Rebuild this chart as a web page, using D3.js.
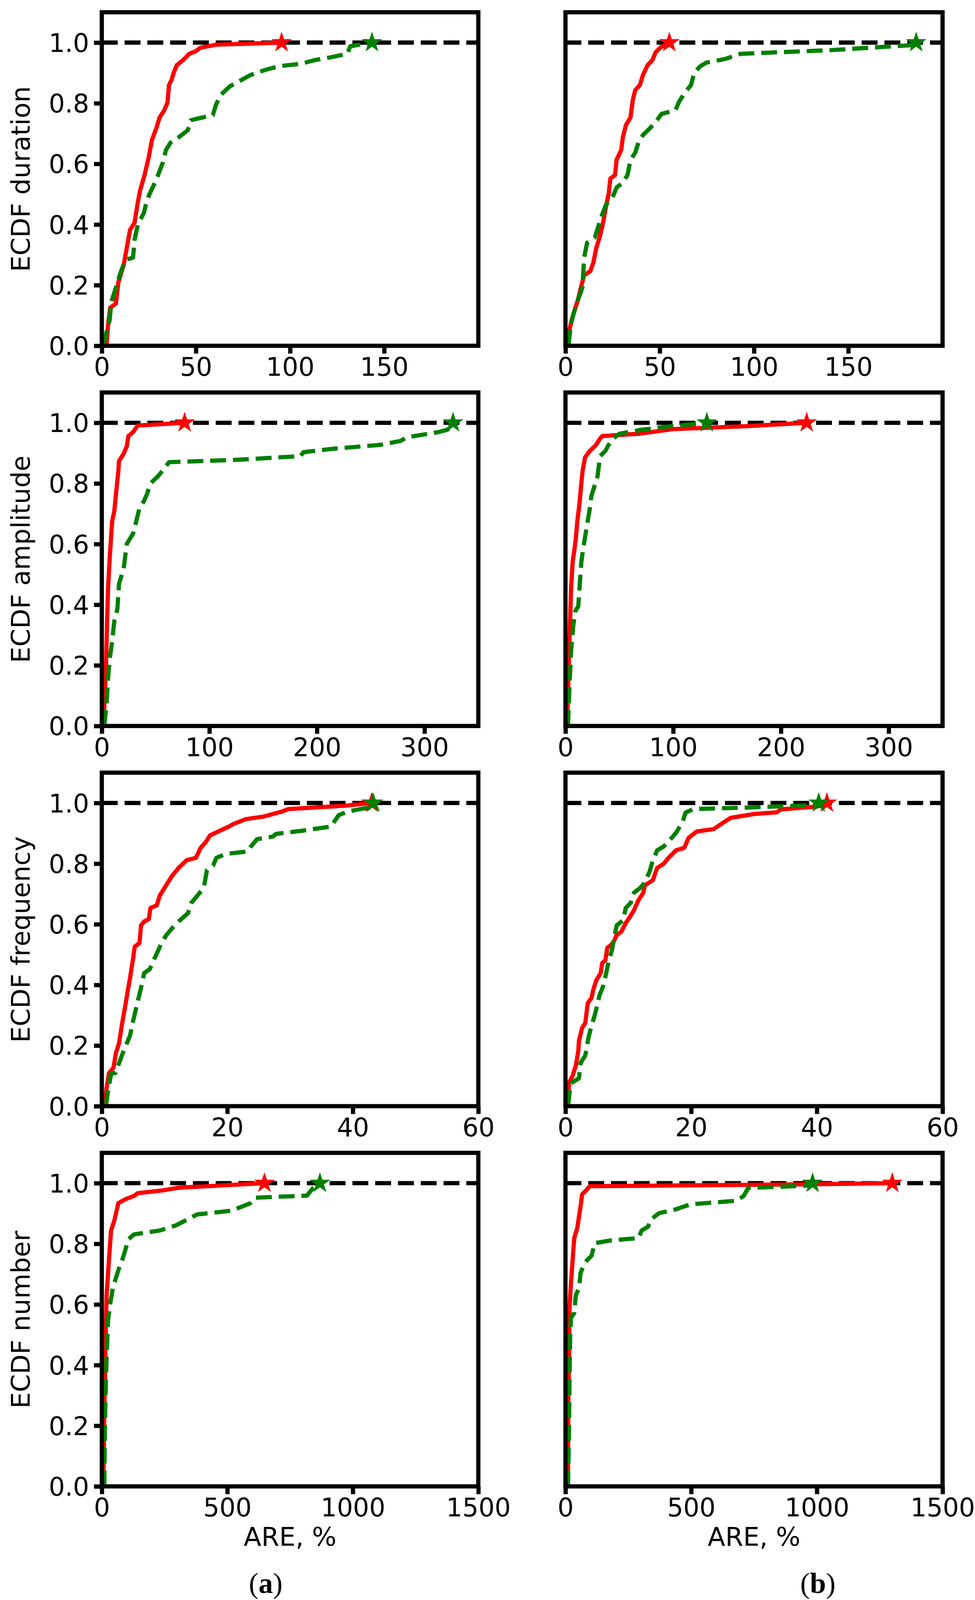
<!DOCTYPE html>
<html><head><meta charset="utf-8">
<script src="https://cdn.jsdelivr.net/npm/d3@7/dist/d3.min.js"></script>
<style>body{margin:0;background:#fff}svg{display:block}</style>
</head><body>
<script>
// ---------- data ----------
const rowLabels = ["ECDF duration", "ECDF amplitude", "ECDF frequency", "ECDF number"];
const xMaxes = [200, 350, 60, 1500];
const xTickVals = [[0, 50, 100, 150], [0, 100, 200, 300], [0, 20, 40, 60], [0, 500, 1000, 1500]];
const yTickVals = [0, 0.2, 0.4, 0.6, 0.8, 1.0];
const xLabel = "ARE, %";
const colLabels = ["a", "b"];

const durA_red = [[2.5,0],[3.3,0.068],[4.5,0.126],[7.5,0.139],[8.8,0.209],[11.6,0.266],[13.3,0.324],[15,0.382],[17.4,0.406],[19.1,0.472],[20.4,0.514],[22.7,0.563],[24.9,0.621],[26.6,0.678],[29.1,0.72],[30.7,0.753],[33.2,0.777],[34.9,0.802],[35.7,0.86],[37,0.876],[38.2,0.901],[39.9,0.926],[43.2,0.942],[46.5,0.963],[49.8,0.971],[52.3,0.983],[60.6,0.993],[95.5,1.0]];
const durA_green = [[0.8,0],[2.5,0.044],[4.2,0.085],[5,0.143],[7.5,0.192],[10,0.242],[12.5,0.283],[16.6,0.291],[17.4,0.349],[19.1,0.398],[22.4,0.439],[24,0.481],[25.7,0.505],[28.2,0.538],[29.9,0.563],[32.4,0.604],[34.1,0.646],[36.5,0.67],[40.7,0.687],[45.7,0.711],[47.3,0.744],[59,0.761],[60.6,0.794],[63.1,0.827],[68.1,0.856],[74,0.876],[79,0.893],[86.4,0.909],[93.9,0.922],[105.5,0.93],[113,0.942],[122,0.952],[130.4,0.963],[132,0.988],[143.5,1.0]];
const durB_red = [[1.6,0],[2.1,0.052],[3.3,0.085],[4.9,0.118],[6.6,0.151],[8.2,0.192],[9.9,0.233],[13.2,0.246],[14.8,0.275],[16.4,0.324],[18.1,0.357],[19.7,0.398],[21.4,0.456],[23,0.505],[23.8,0.551],[26.3,0.563],[27.1,0.613],[29.6,0.646],[30.4,0.687],[32.1,0.728],[34.5,0.753],[35.7,0.81],[37,0.843],[39.5,0.86],[41.1,0.893],[43.6,0.926],[46.1,0.942],[47.7,0.967],[50.2,0.983],[55.1,1.0]];
const durB_green = [[1.6,0],[2.8,0.068],[4.1,0.101],[6.6,0.151],[9,0.192],[9.9,0.291],[11.5,0.34],[15.6,0.357],[18.9,0.423],[21.4,0.464],[25.5,0.497],[27.1,0.522],[30.4,0.538],[32.9,0.563],[34.5,0.613],[37,0.637],[38.7,0.67],[41.1,0.695],[45.2,0.72],[48.5,0.744],[51,0.765],[58.4,0.777],[60,0.802],[63.3,0.835],[66.6,0.86],[68.3,0.901],[71.5,0.922],[74.8,0.934],[84.7,0.946],[92.9,0.963],[140.6,0.975],[185,0.992],[186,1.0]];

const ampA_red = [[1.5,0],[3.8,0.18],[4.9,0.345],[5.8,0.452],[7.3,0.552],[8.1,0.593],[9.6,0.675],[11.6,0.708],[13.7,0.783],[15.4,0.841],[16,0.874],[20.3,0.898],[23.3,0.923],[24.7,0.956],[29,0.969],[33.4,0.991],[77,1.0]];
const ampA_green = [[2.3,0],[4.4,0.073],[5.8,0.155],[7.3,0.221],[9.6,0.279],[11.6,0.345],[14.5,0.386],[16,0.469],[20.3,0.519],[23.3,0.601],[29,0.634],[32,0.675],[34.9,0.717],[39.2,0.742],[42.2,0.766],[45,0.799],[52.3,0.824],[58.1,0.849],[62.5,0.87],[126.5,0.878],[184.6,0.89],[187.5,0.903],[216.6,0.915],[258.7,0.927],[277.6,0.94],[283.4,0.952],[312.5,0.969],[321.2,0.977],[326.5,1.0]];
const ampB_red = [[1.4,0],[2.3,0.097],[3.2,0.221],[4.3,0.345],[5.2,0.452],[6.7,0.543],[8.1,0.576],[9.6,0.618],[11,0.675],[13,0.733],[14.5,0.791],[15.9,0.841],[18.2,0.886],[22.6,0.907],[28.4,0.927],[32.1,0.948],[34.2,0.956],[68.9,0.964],[99.3,0.979],[168.8,0.989],[223.9,1.0]];
const ampB_green = [[2.3,0],[3.8,0.139],[5.2,0.246],[7.2,0.329],[9,0.378],[11.9,0.395],[13.3,0.469],[14.8,0.543],[16.8,0.593],[20.6,0.675],[22.6,0.717],[24,0.758],[26.9,0.791],[29.8,0.824],[32.1,0.89],[37,0.907],[40,0.927],[44.3,0.948],[50.1,0.964],[70.4,0.977],[96.4,0.988],[131.2,1.0]];

const freqA_red = [[0.5,0],[0.75,0.059],[1.15,0.109],[1.85,0.126],[2.25,0.175],[2.75,0.208],[3.25,0.274],[3.75,0.332],[4.15,0.382],[4.5,0.423],[5,0.489],[5.25,0.526],[6,0.538],[6.25,0.596],[6.75,0.609],[7.5,0.617],[7.75,0.654],[8.75,0.662],[9.25,0.695],[10,0.72],[10.75,0.745],[11.25,0.761],[12.25,0.786],[13.5,0.811],[15,0.819],[15.75,0.852],[16.5,0.869],[17.25,0.893],[18.75,0.908],[20.25,0.922],[21,0.931],[23,0.947],[25.75,0.955],[28.75,0.972],[29.75,0.98],[38.75,0.991],[43,1.0]];
const freqA_green = [[0.65,0],[1,0.051],[1.5,0.109],[2.15,0.109],[2.75,0.142],[3.35,0.175],[4,0.208],[4.5,0.233],[5,0.282],[5.75,0.348],[6.25,0.39],[6.75,0.439],[7.65,0.452],[8.25,0.481],[9,0.514],[9.5,0.538],[10.25,0.563],[11.25,0.588],[12.25,0.609],[13.75,0.637],[14.25,0.67],[15.25,0.695],[16.25,0.72],[16.75,0.778],[17.75,0.794],[18.25,0.819],[19.75,0.832],[23.25,0.84],[23.75,0.856],[24.75,0.881],[27.25,0.889],[27.75,0.898],[31.75,0.908],[36.5,0.922],[37.75,0.96],[39.25,0.972],[42.25,0.984],[43.25,1.0]];
const freqB_red = [[0.4,0],[0.55,0.076],[1.15,0.101],[1.65,0.134],[2.05,0.183],[2.15,0.216],[2.65,0.258],[3.15,0.274],[3.55,0.34],[4.15,0.357],[4.4,0.382],[4.9,0.415],[5.6,0.439],[5.85,0.472],[6.35,0.481],[6.65,0.522],[7.6,0.538],[8.1,0.563],[8.9,0.576],[9.6,0.604],[10.4,0.629],[10.9,0.646],[11.6,0.679],[12.4,0.704],[12.6,0.728],[13.9,0.745],[14.6,0.786],[15.6,0.799],[16.4,0.819],[17.6,0.844],[18.9,0.852],[19.6,0.885],[20.9,0.906],[23.6,0.914],[25.1,0.935],[26.3,0.951],[30.1,0.964],[33.6,0.969],[34.3,0.979],[40,0.988],[41.6,1.0]];
const freqB_green = [[0.4,0],[0.65,0.043],[0.9,0.076],[2.15,0.092],[2.4,0.142],[3.15,0.167],[3.65,0.225],[4.15,0.266],[4.65,0.299],[5.05,0.332],[5.4,0.365],[5.9,0.39],[6.4,0.431],[6.9,0.481],[7.4,0.514],[7.65,0.547],[8.15,0.596],[9.15,0.613],[9.6,0.654],[10.4,0.671],[10.9,0.704],[11.9,0.72],[12.6,0.737],[13.4,0.774],[13.9,0.811],[14.6,0.844],[15.6,0.856],[16.6,0.877],[17.6,0.902],[18.6,0.935],[19.1,0.968],[20.35,0.98],[27.6,0.984],[39.6,0.993],[40.3,1.0]];

const numA_red = [[6,0],[10,0.259],[14,0.424],[19,0.63],[29,0.753],[37,0.844],[50,0.877],[66,0.934],[94,0.947],[131,0.959],[143,0.967],[249,0.977],[305,0.985],[648,1.0]];
const numA_green = [[10,0],[12,0.177],[16,0.342],[19,0.424],[25,0.547],[34,0.605],[44,0.654],[56,0.687],[69,0.72],[84,0.753],[96,0.786],[106,0.815],[128,0.831],[231,0.844],[293,0.86],[343,0.881],[380,0.897],[517,0.909],[592,0.934],[611,0.952],[817,0.959],[842,0.984],[869,1.0]];
const numB_red = [[10,0],[11,0.259],[14,0.424],[16,0.588],[22,0.671],[29,0.753],[35,0.819],[47,0.852],[53,0.885],[62,0.934],[66,0.963],[81,0.975],[97,0.99],[939,0.996],[1300,1.0]];
const numB_green = [[10,0],[14,0.177],[16,0.342],[19,0.506],[22,0.556],[35,0.572],[41,0.63],[54,0.654],[60,0.704],[72,0.728],[85,0.745],[104,0.761],[116,0.802],[178,0.811],[291,0.819],[303,0.844],[328,0.856],[341,0.881],[372,0.901],[440,0.914],[496,0.93],[677,0.942],[708,0.957],[727,0.984],[964,0.992],[983,1.0]];

const panelSeries = [
  [[durA_red, durA_green], [durB_red, durB_green]],
  [[ampA_red, ampA_green], [ampB_red, ampB_green]],
  [[freqA_red, freqA_green], [freqB_red, freqB_green]],
  [[numA_red, numA_green], [numB_red, numB_green]]
];

// ---------- layout ----------
const W = 2495, H = 4115;
const cols = [{x0: 260.5, x1: 1224}, {x0: 1447, x1: 2412}];
const rowTop0 = 31.4, rowStep = 973.3, rowH = 853.8;
const LW = 10.8;
const dash = "40.7 17.6";
const FONT = "'DejaVu Sans', sans-serif";
const tickFs = 65, labelFs = 66;
const RED = "#ff0000", GREEN = "#008000";

const svg = d3.select("body").append("svg").attr("width", W).attr("height", H)
  .attr("viewBox", `0 0 ${W} ${H}`);
svg.append("rect").attr("width", W).attr("height", H).attr("fill", "#fff");

const star = d3.symbol().type(d3.symbolStar).size(800);

rowLabels.forEach((lab, r) => {
  const top = rowTop0 + r * rowStep, bot = top + rowH;
  cols.forEach((c, ci) => {
    const x = d3.scaleLinear().domain([0, xMaxes[r]]).range([c.x0, c.x1]);
    const y = d3.scaleLinear().domain([0, 1.1]).range([bot, top]);
    const g = svg.append("g");
    const cid = `clip-${r}-${ci}`;
    g.append("clipPath").attr("id", cid).append("rect")
      .attr("x", c.x0).attr("y", top).attr("width", c.x1 - c.x0).attr("height", rowH);
    const plot = g.append("g").attr("clip-path", `url(#${cid})`);

    // reference line at 1.0
    plot.append("line").attr("x1", x(0)).attr("x2", x(xMaxes[r]))
      .attr("y1", y(1)).attr("y2", y(1))
      .attr("stroke", "#000").attr("stroke-width", LW).attr("stroke-dasharray", dash);

    const line = d3.line().x(d => x(d[0])).y(d => y(d[1]));
    const [redS, greenS] = panelSeries[r][ci];
    plot.append("path").attr("d", line(redS)).attr("fill", "none")
      .attr("stroke", RED).attr("stroke-width", LW).attr("stroke-linejoin", "round");
    const rl = redS[redS.length - 1];
    plot.append("path").attr("d", star()).attr("transform", `translate(${x(rl[0])},${y(rl[1])})`)
      .attr("fill", RED).attr("stroke", RED).attr("stroke-width", 1);
    plot.append("path").attr("d", line(greenS)).attr("fill", "none")
      .attr("stroke", GREEN).attr("stroke-width", LW).attr("stroke-linejoin", "round")
      .attr("stroke-dasharray", dash);
    const gl = greenS[greenS.length - 1];
    plot.append("path").attr("d", star()).attr("transform", `translate(${x(gl[0])},${y(gl[1])})`)
      .attr("fill", GREEN).attr("stroke", GREEN).attr("stroke-width", 1);

    // frame
    g.append("rect").attr("x", c.x0).attr("y", top).attr("width", c.x1 - c.x0).attr("height", rowH)
      .attr("fill", "none").attr("stroke", "#000").attr("stroke-width", LW);

    // x axis ticks
    const xAxis = d3.axisBottom(x).tickValues(xTickVals[r]).tickSize(20).tickPadding(10).tickFormat(d3.format("d"));
    const ax = g.append("g").attr("transform", `translate(0,${bot})`).call(xAxis);
    ax.select(".domain").remove();
    ax.selectAll(".tick line").attr("stroke", "#000").attr("stroke-width", LW);
    ax.selectAll(".tick text").attr("font-family", FONT).attr("font-size", tickFs)
      .attr("fill", "#000").attr("dy", null).attr("y", 77);

    if (ci === 0) {
      const yAxis = d3.axisLeft(y).tickValues(yTickVals).tickSize(20).tickPadding(12).tickFormat(d3.format(".1f"));
      const ay = g.append("g").attr("transform", `translate(${c.x0},0)`).call(yAxis);
      ay.select(".domain").remove();
      ay.selectAll(".tick line").attr("stroke", "#000").attr("stroke-width", LW);
      ay.selectAll(".tick text").attr("font-family", FONT).attr("font-size", tickFs)
        .attr("fill", "#000").attr("dy", "0.36em").attr("x", -32.5);
      g.append("text").attr("transform", `translate(76,${(top + bot) / 2}) rotate(-90)`)
        .attr("text-anchor", "middle").attr("font-family", FONT).attr("font-size", labelFs)
        .attr("fill", "#000").text(lab);
    }
    if (r === rowLabels.length - 1) {
      g.append("text").attr("x", (c.x0 + c.x1) / 2).attr("y", 3957)
        .attr("text-anchor", "middle").attr("font-family", FONT).attr("font-size", labelFs)
        .attr("fill", "#000").text(xLabel);
    }
  });
});

// panel captions
const capX = [680, 2093];
colLabels.forEach((l, i) => {
  const t = svg.append("text").attr("x", capX[i]).attr("y", 4078).attr("text-anchor", "middle")
    .attr("font-family", "'Liberation Serif', 'Times New Roman', serif").attr("font-size", 74).attr("fill", "#000");
  t.append("tspan").text("(");
  t.append("tspan").attr("font-weight", "bold").text(l);
  t.append("tspan").text(")");
});
</script>
</body></html>
